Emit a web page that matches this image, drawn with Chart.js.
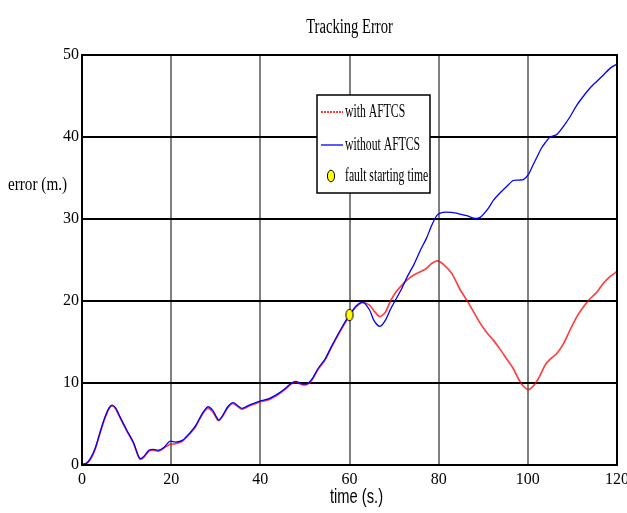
<!DOCTYPE html>
<html>
<head>
<meta charset="utf-8">
<script src="https://cdn.jsdelivr.net/npm/chart.js@4.4.1/dist/chart.umd.min.js"></script>
<style>
html,body{margin:0;padding:0;background:#fff;}
#wrap{width:627px;height:513px;}
</style>
</head>
<body>
<div id="wrap"><canvas id="c" width="627" height="513"></canvas></div>
<script>
// ---- data ----
const chartTitle = "Tracking Error";
const xAxisTitle = "time (s.)";
const yAxisTitle = "error (m.)";
const seriesNames = ["with AFTCS", "without AFTCS", "fault starting time"];
const xTicks = [0, 20, 40, 60, 80, 100, 120];
const yTicks = [0, 10, 20, 30, 40, 50];

const timeS = [0,1,2,3,4,5,6,6.7,7.5,8.5,10,11.5,12.5,13,13.8,15,16,17.2,18.5,19.7,21,22.5,24,25.5,27,28.2,29.3,30.6,31.5,32.7,33.9,35,35.9,37.5,39.9,42,44,45.5,47,48,49.3,50.4,51.5,53,54.5,56,58,60,61.5,63,64.5,65.5,66.8,68,69.2,70.3,71.7,73,74.5,76,77.3,78.5,79.7,81,82.9,84.8,86.3,87.8,89.3,91,92.3,93.8,95.3,96.7,98,99,100.1,101,102,103,103.9,105,106.5,108,109.5,111,112.5,114,115.5,117,118.5,120];
const withAFTCS = [0.1,0.2,0.8,2.0,3.8,5.5,6.8,7.2,6.9,5.8,4.2,2.7,1.2,0.7,0.9,1.7,1.8,1.7,2.1,2.5,2.6,2.9,3.7,4.7,6.2,6.9,6.5,5.4,5.9,7.0,7.5,7.1,6.8,7.2,7.7,8.0,8.6,9.2,9.9,10.1,9.8,9.8,10.3,11.7,12.8,14.4,16.4,18.2,19.3,19.8,19.5,18.8,18.1,18.6,20.0,21.0,21.9,22.6,23.2,23.6,24.0,24.6,24.9,24.5,23.4,21.4,20.1,18.7,17.3,16.0,15.2,14.1,12.9,11.8,10.4,9.6,9.2,9.5,10.2,11.2,12.2,12.9,13.6,14.8,16.5,18.1,19.3,20.3,21.1,22.2,23.0,23.6];
const withoutAFTCS = [0.1,0.2,0.9,2.1,3.9,5.6,6.9,7.3,7.0,5.9,4.3,2.8,1.3,0.8,1.0,1.8,1.9,1.8,2.2,2.9,2.8,3.0,3.8,4.8,6.3,7.1,6.7,5.5,6.0,7.1,7.6,7.2,6.9,7.3,7.8,8.1,8.7,9.3,10.0,10.2,9.9,9.9,10.4,11.8,12.9,14.5,16.5,18.3,19.4,19.85,18.9,17.6,16.9,17.6,19.0,20.1,21.5,23.0,24.5,26.3,27.7,29.3,30.5,30.8,30.8,30.6,30.4,30.1,30.2,31.2,32.3,33.2,34.0,34.7,34.75,34.8,35.4,36.4,37.5,38.6,39.3,40.0,40.3,41.3,42.5,43.9,45.0,46.0,46.8,47.6,48.4,48.9];
const faultTime = [60];
const faultError = [18.3];

// ---- styles ----
const SERIF = '"Liberation Serif", "Times New Roman", serif';
const SANS = '"Liberation Sans", Arial, sans-serif';

function pts(xs, ys){ return xs.map((x,i)=>({x:x, y:ys[i]})); }

// yellow ellipse marker
const marker = document.createElement('canvas');
marker.width = 10; marker.height = 14;
(function(){
  const m = marker.getContext('2d');
  m.beginPath();
  m.ellipse(5,7,3.6,5.8,0,0,Math.PI*2);
  m.fillStyle = '#ffff00';
  m.fill();
  m.lineWidth = 1;
  m.strokeStyle = '#000';
  m.stroke();
})();

function condText(ctx, text, x, y, font, sx, align){
  ctx.save();
  ctx.font = font;
  ctx.fillStyle = '#000';
  ctx.textBaseline = 'middle';
  const w = ctx.measureText(text).width * sx;
  let x0 = x;
  if (align === 'center') x0 = x - w/2;
  else if (align === 'right') x0 = x - w;
  ctx.translate(x0, y);
  ctx.scale(sx, 1);
  ctx.textAlign = 'left';
  ctx.fillText(text, 0, 0);
  ctx.restore();
}

const decor = {
  id: 'decor',
  afterDraw(chart){
    const ctx = chart.ctx;
    const ca = chart.chartArea;
    ctx.save();
    ctx.strokeStyle = '#000';
    ctx.lineWidth = 2;
    ctx.strokeRect(ca.left, ca.top, ca.right - ca.left, ca.bottom - ca.top);
    ctx.restore();
    condText(ctx, chartTitle, (ca.left+ca.right)/2, 28, '20px ' + SERIF, 0.73, 'center');
    condText(ctx, yAxisTitle, 8, 185, '19px ' + SERIF, 0.8, 'left');
    condText(ctx, xAxisTitle, (ca.left+ca.right)/2 + 7, 497, '21px ' + SANS, 0.7, 'center');
    const lx = ca.left + 235, ly = ca.top + 40, lw = 113, lh = 98;
    ctx.save();
    ctx.fillStyle = '#fff';
    ctx.fillRect(lx, ly, lw, lh);
    ctx.strokeStyle = '#000';
    ctx.lineWidth = 1.5;
    ctx.strokeRect(lx, ly, lw, lh);
    const ds = chart.data.datasets;
    const rows = [ly + 17, ly + 50, ly + 81];
    ctx.strokeStyle = '#ff0000';
    ctx.lineWidth = 1.5;
    ctx.setLineDash([2,1]);
    ctx.beginPath(); ctx.moveTo(lx+4, rows[0]); ctx.lineTo(lx+26, rows[0]); ctx.stroke();
    ctx.setLineDash([]);
    ctx.strokeStyle = ds[1].borderColor;
    ctx.lineWidth = 1.3;
    ctx.beginPath(); ctx.moveTo(lx+4, rows[1]); ctx.lineTo(lx+26, rows[1]); ctx.stroke();
    ctx.drawImage(marker, lx+14-5, rows[2]-7);
    ctx.restore();
    for (let i=0;i<3;i++){
      condText(ctx, ds[i].label, lx+28, rows[i], '18px ' + SERIF, 0.65, 'left');
    }
  }
};

new Chart(document.getElementById('c'), {
  type: 'line',
  data: {
    datasets: [
      { label: seriesNames[0], data: pts(timeS, withAFTCS), borderColor: 'rgba(255,0,0,0.75)', borderWidth: 1.7, pointRadius: 0, tension: 0.25, order: 2 },
      { label: seriesNames[1], data: pts(timeS, withoutAFTCS), borderColor: '#0000ff', borderWidth: 1.3, pointRadius: 0, tension: 0.25, order: 1 },
      { label: seriesNames[2], data: pts(faultTime, faultError), showLine: false, pointStyle: marker, pointRadius: 5, order: 0 }
    ]
  },
  options: {
    responsive: false,
    animation: false,
    events: [],
    layout: { padding: { top: 55, right: 10, left: 0, bottom: 0 } },
    plugins: { legend: { display: false }, title: { display: false }, tooltip: { enabled: false } },
    scales: {
      x: {
        type: 'linear', min: 0, max: 120,
        afterBuildTicks(s){ s.ticks = xTicks.map(v=>({value:v})); },
        afterFit(s){ s.height = 48; s.paddingLeft = 0; s.paddingRight = 0; },
        ticks: { color: '#000', font: { family: SERIF, size: 16 }, padding: 5, maxRotation: 0 },
        grid: { color: '#808080', lineWidth: 2, drawTicks: false },
        border: { color: '#000', width: 2 }
      },
      y: {
        type: 'linear', min: 0, max: 50,
        afterBuildTicks(s){ s.ticks = yTicks.map(v=>({value:v})); },
        afterFit(s){ s.width = 82; s.paddingTop = 0; s.paddingBottom = 0; },
        ticks: { color: '#000', font: { family: SERIF, size: 16 }, padding: 3 },
        grid: { color: '#000', lineWidth: 2, drawTicks: false },
        border: { color: '#000', width: 2 }
      }
    }
  },
  plugins: [decor]
});
</script>
</body>
</html>
